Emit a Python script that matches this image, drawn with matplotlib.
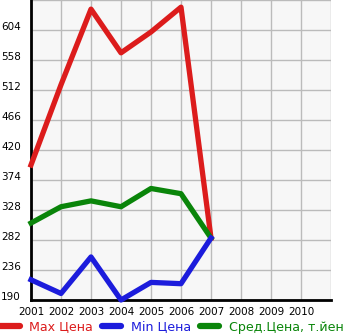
import matplotlib
matplotlib.use('Agg')
import matplotlib.pyplot as plt
from matplotlib.lines import Line2D
from matplotlib.transforms import blended_transform_factory

# data
years = [2001, 2002, 2003, 2004, 2005, 2006, 2007]
max_price = [397, 520, 636, 569, 601, 639, 285]
min_price = [221, 200, 256, 190, 217, 215, 285]
avg_price = [308, 333, 342, 333, 361, 353, 285]
x_ticks = [2001, 2002, 2003, 2004, 2005, 2006, 2007, 2008, 2009, 2010]
y_ticks = [190, 236, 282, 328, 374, 420, 466, 512, 558, 604]
labels = ['Max Цена', 'Min Цена', 'Сред.Цена, т.йен']

red = '#dc1c1c'
blue = '#1c1cdc'
green = '#0a850a'

fig = plt.figure(figsize=(3.45, 3.35), dpi=100)
ax = fig.add_axes([31/345, 35/335, 300/345, 300/335])
ax.set_facecolor('#f7f7f7')

ax.set_xlim(2001, 2011)
ax.set_ylim(190, 650)
ax.set_xticks(range(2001, 2012))
ax.set_yticks(y_ticks + [650])
ax.grid(True, color='#bbbbbb', linewidth=1)
ax.set_axisbelow(True)
ax.tick_params(length=0, labelleft=False, labelbottom=False)

for s in ['top', 'right']:
    ax.spines[s].set_visible(False)
for s in ['left', 'bottom']:
    ax.spines[s].set_linewidth(2)
    ax.spines[s].set_color('black')

lw = 3.8
ax.plot(years, max_price, color=red, lw=lw, clip_on=False, zorder=3)
ax.plot(years, avg_price, color=green, lw=lw, clip_on=False, zorder=3)
ax.plot(years, min_price, color=blue, lw=lw, clip_on=False, zorder=4)

# y labels sit just above the grid lines, at the left edge of the figure
ytrans = blended_transform_factory(fig.transFigure, ax.transData)
for v in y_ticks:
    ax.text(1/345, v, str(v), fontsize=7.5, ha='left', va='baseline',
            transform=ytrans, clip_on=False)

for yr in x_ticks:
    ax.annotate(str(yr), (yr, 190), xytext=(0, -5), textcoords='offset points',
                fontsize=7.5, ha='center', va='top', annotation_clip=False)

handles = [Line2D([], [], color=c, lw=4.5, solid_capstyle='round') for c in (red, blue, green)]
leg = fig.legend(handles, labels, loc='center left', bbox_to_anchor=(0, 8/335), ncol=3,
                 frameon=False, fontsize=9.1, handlelength=1.55, handletextpad=0.75,
                 columnspacing=0.7, borderaxespad=0, borderpad=0)
for t, c in zip(leg.get_texts(), (red, blue, green)):
    t.set_color(c)

fig.savefig('out.png', dpi=100)
